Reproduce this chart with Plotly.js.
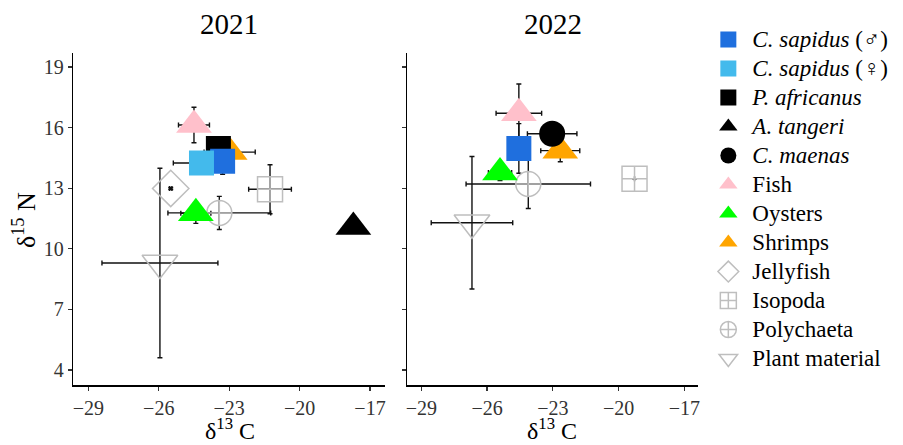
<!DOCTYPE html>
<html>
<head>
<meta charset="utf-8">
<script src="https://cdn.plot.ly/plotly-3.0.1.min.js"></script>
<style>html,body{margin:0;padding:0;background:#fff;}#chart{width:903px;height:445px;}</style>
</head>
<body>
<div id="chart"></div>
<script>
// ---- data ----
const groupNames = ['<i>C. sapidus</i> (♂)', '<i>C. sapidus</i> (♀)', '<i>P. africanus</i>', '<i>A. tangeri</i>', '<i>C. maenas</i>',
  'Fish', 'Oysters', 'Shrimps', 'Jellyfish', 'Isopoda', 'Polychaeta', 'Plant material'];
const years = ['2021', '2022'];

// 2021 means and SDs (null = not sampled)
const x2021 = [-23.28, -24.18, -23.46, -17.71, null, -24.50, -24.42, -22.98, -25.49, -21.26, -23.42, -25.95];
const y2021 = [14.34, 14.25, 14.97, 11.08, null, 16.13, 11.76, 14.79, 12.99, 12.95, 11.78, 9.30];
const sx2021 = [0.40, 1.20, 0.40, 0, null, 0.66, 0.64, 1.09, 0.05, 0.91, 2.19, 2.47];
const sy2021 = [0.65, 0.50, 0.40, 0, null, 0.88, 0.50, 0.50, 0.05, 1.21, 0.82, 4.69];

// 2022 means and SDs
const x2022 = [-24.55, null, null, null, -23.03, -24.55, -25.41, -22.66, null, -19.27, -24.12, -26.69];
const y2022 = [14.97, null, null, null, 15.70, 16.71, 13.78, 14.86, null, 13.47, 13.21, 11.29];
const sx2022 = [0.40, null, null, null, 1.13, 1.04, 0.53, 0.89, null, 0, 2.84, 1.86];
const sy2022 = [1.23, null, null, null, 0.40, 1.45, 0.40, 0.55, null, 0, 1.21, 3.28];

const xTicks = [-29, -26, -23, -20, -17];
const yTicks = [4, 7, 10, 13, 16, 19];

// ---- styles ----
const FONT = 'Liberation Serif, Times New Roman, serif';
const grey = '#BEBEBE';
const styles = [
  {symbol: 'square', color: '#1F6FDE', size: 25},
  {symbol: 'square', color: '#43BAEC', size: 25},
  {symbol: 'square', color: '#000000', size: 25},
  {symbol: 'triangle-up', color: '#000000', size: 31},
  {symbol: 'circle', color: '#000000', size: 26},
  {symbol: 'triangle-up', color: '#FFC0CB', size: 31},
  {symbol: 'triangle-up', color: '#00FF00', size: 31},
  {symbol: 'triangle-up', color: '#FFA500', size: 31},
  {symbol: 'diamond-open', color: grey, size: 28},
  {symbol: 'square-cross-open', color: grey, size: 25},
  {symbol: 'circle-cross-open', color: grey, size: 25},
  {symbol: 'triangle-down-open', color: grey, size: 31}
];
// drawing order of the point layer (later = on top)
const drawOrder = [11, 10, 9, 8, 7, 6, 5, 2, 0, 1, 3, 4];

const data = [[x2021, y2021, sx2021, sy2021], [x2022, y2022, sx2022, sy2022]];
const traces = [];
const legendShown = {};

// error bars first (under all points)
data.forEach((d, yi) => {
  const xa = yi === 0 ? 'x' : 'x2', ya = yi === 0 ? 'y' : 'y2';
  traces.push({
    type: 'scatter', mode: 'markers', x: d[0], y: d[1], xaxis: xa, yaxis: ya,
    marker: {size: 1, color: 'rgba(0,0,0,0)'}, showlegend: false, hoverinfo: 'skip',
    error_x: {type: 'data', array: d[2], symmetric: true, color: '#111', thickness: 1.4, width: 2.5},
    error_y: {type: 'data', array: d[3], symmetric: true, color: '#111', thickness: 1.4, width: 2.5}
  });
});

// points
data.forEach((d, yi) => {
  const xa = yi === 0 ? 'x' : 'x2', ya = yi === 0 ? 'y' : 'y2';
  drawOrder.forEach(g => {
    if (d[0][g] === null) return;
    const s = styles[g];
    const show = !legendShown[g];
    legendShown[g] = true;
    const isOpen = s.symbol.indexOf('open') >= 0;
    traces.push({
      type: 'scatter', mode: 'markers',
      name: '<span style="font-size:23px">' + groupNames[g] + '</span>',
      legendgroup: 'g' + g, legendrank: g + 1,
      showlegend: show, x: [d[0][g]], y: [d[1][g]], xaxis: xa, yaxis: ya,
      marker: {symbol: s.symbol, color: s.color, size: s.size,
        line: isOpen ? {color: s.color, width: 1.5} : {width: 0}}
    });
  });
});

const axisCommon = {
  showline: true, linecolor: '#000', linewidth: 1.6, showgrid: false, zeroline: false,
  ticks: 'outside', ticklen: 4, tickwidth: 1.2, tickcolor: '#333', mirror: false,
  tickfont: {size: 20, color: '#333', family: FONT}
};
const xr = [-29.64, -16.36], yr = [3.26, 19.71];

const layout = {
  width: 903, height: 445,
  margin: {l: 0, r: 0, t: 0, b: 0},
  paper_bgcolor: '#fff', plot_bgcolor: '#fff',
  font: {family: FONT, color: '#000'},
  xaxis: Object.assign({}, axisCommon, {domain: [0.0812, 0.4264], range: xr, tickvals: xTicks, anchor: 'y'}),
  yaxis: Object.assign({}, axisCommon, {domain: [0.1348, 0.8816], range: yr, tickvals: yTicks, anchor: 'x'}),
  xaxis2: Object.assign({}, axisCommon, {domain: [0.4511, 0.7733], range: xr, tickvals: xTicks, anchor: 'y2'}),
  yaxis2: Object.assign({}, axisCommon, {domain: [0.1348, 0.8816], range: yr, tickvals: yTicks, anchor: 'x2', showticklabels: false}),
  showlegend: true,
  legend: {x: 0.78, y: 0.955, xanchor: 'left', yanchor: 'top', font: {size: 20, color: '#000', family: FONT},
    bgcolor: 'rgba(0,0,0,0)', tracegroupgap: 0, itemwidth: 38, traceorder: 'normal'},
  annotations: [
    {text: years[0], xref: 'paper', yref: 'paper', x: 229 / 903, y: 1 - 24 / 445, xanchor: 'center', yanchor: 'middle', showarrow: false, font: {size: 29}},
    {text: years[1], xref: 'paper', yref: 'paper', x: 552.8 / 903, y: 1 - 24 / 445, xanchor: 'center', yanchor: 'middle', showarrow: false, font: {size: 29}},
    {text: 'δ<sup>13</sup> C', xref: 'paper', yref: 'paper', x: 230 / 903, y: 1 - 429 / 445, xanchor: 'center', yanchor: 'middle', showarrow: false, font: {size: 24}},
    {text: 'δ<sup>13</sup> C', xref: 'paper', yref: 'paper', x: 552 / 903, y: 1 - 429 / 445, xanchor: 'center', yanchor: 'middle', showarrow: false, font: {size: 24}},
    {text: 'δ<sup>15</sup> N', xref: 'paper', yref: 'paper', x: 24 / 903, y: 1 - 220 / 445, xanchor: 'center', yanchor: 'middle', textangle: -90, showarrow: false, font: {size: 26}}
  ]
};

Plotly.newPlot('chart', traces, layout, {displayModeBar: false, staticPlot: true});
</script>
</body>
</html>
